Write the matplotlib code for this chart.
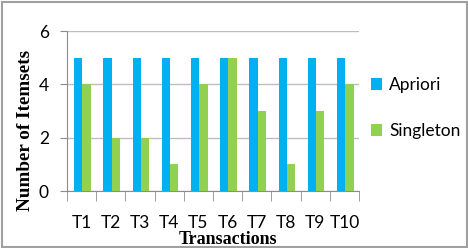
import matplotlib
matplotlib.use("Agg")
import matplotlib.pyplot as plt
from matplotlib.patches import Rectangle
import numpy as np

categories = ["T1", "T2", "T3", "T4", "T5", "T6", "T7", "T8", "T9", "T10"]
apriori = [5, 5, 5, 5, 5, 5, 5, 5, 5, 5]
singleton = [4, 2, 2, 1, 4, 5, 3, 1, 3, 4]
series_names = ["Apriori", "Singleton"]
y_ticks = [0, 2, 4, 6]

BLUE = "#00B0F0"
GREEN = "#92D050"
AX_GRAY = "#8C8C8C"
GRID_GRAY = "#BDBDBD"

W, H = 468, 248
fig = plt.figure(figsize=(W / 100, H / 100), dpi=100)
fig.patch.set_facecolor("white")

L, R, T, B = 67, 359, 31, 191
ax = fig.add_axes([L / W, 1 - B / H, (R - L) / W, (B - T) / H])

x = np.arange(len(categories))
bw = 0.285
ax.bar(x - bw / 2 + 0.03, apriori, width=bw, color=BLUE, label=series_names[0], zorder=3)
ax.bar(x + bw / 2 + 0.03, singleton, width=bw, color=GREEN, label=series_names[1], zorder=3)

ax.set_xlim(-0.5, len(categories) - 0.5)
ax.set_ylim(0, 6)
ax.set_yticks(y_ticks)
ax.yaxis.grid(True, color=GRID_GRAY, lw=1, zorder=0)
ax.set_axisbelow(True)

for s in ["top", "right"]:
    ax.spines[s].set_visible(False)
ax.spines["left"].set_color(AX_GRAY)
ax.spines["bottom"].set_color(AX_GRAY)

tick_font = dict(family=["Lato", "DejaVu Sans"], size=12.5)
ax.set_xticks(x)
ax.set_xticklabels(categories, **tick_font)
ax.set_xticks(np.arange(len(categories) + 1) - 0.5, minor=True)
ax.tick_params(axis="x", which="major", length=0, pad=17)
ax.tick_params(axis="x", which="minor", length=7, color=AX_GRAY, direction="out")
ax.set_yticklabels([str(v) for v in y_ticks], **tick_font)
ax.tick_params(axis="y", length=5, color=AX_GRAY, pad=8)

serif_bold = dict(family=["Liberation Serif", "DejaVu Serif"], weight="bold")
fig.text(228 / W, 1 - 239.5 / H, "Transactions", ha="center", va="center", size=13, **serif_bold)
fig.text(26 / W, 1 - 130 / H, "Number of Itemsets", ha="center", va="center",
         rotation=90, size=13.8, **serif_bold)

leg = ax.legend(loc="center left", bbox_to_anchor=(371 / W, 1 - 108 / H),
                bbox_transform=fig.transFigure, frameon=False,
                prop=dict(family=["Lato", "DejaVu Sans"], size=12.5),
                handlelength=0.65, handleheight=0.65, handletextpad=0.4,
                labelspacing=1.75, borderaxespad=0, borderpad=0)

fig.patches.append(Rectangle((1.5 / W, 1.5 / H), (W - 3) / W, (H - 3) / H,
                             transform=fig.transFigure, fill=False,
                             edgecolor="#A0A0A0", lw=1.5))

fig.savefig("out.png", dpi=100)
